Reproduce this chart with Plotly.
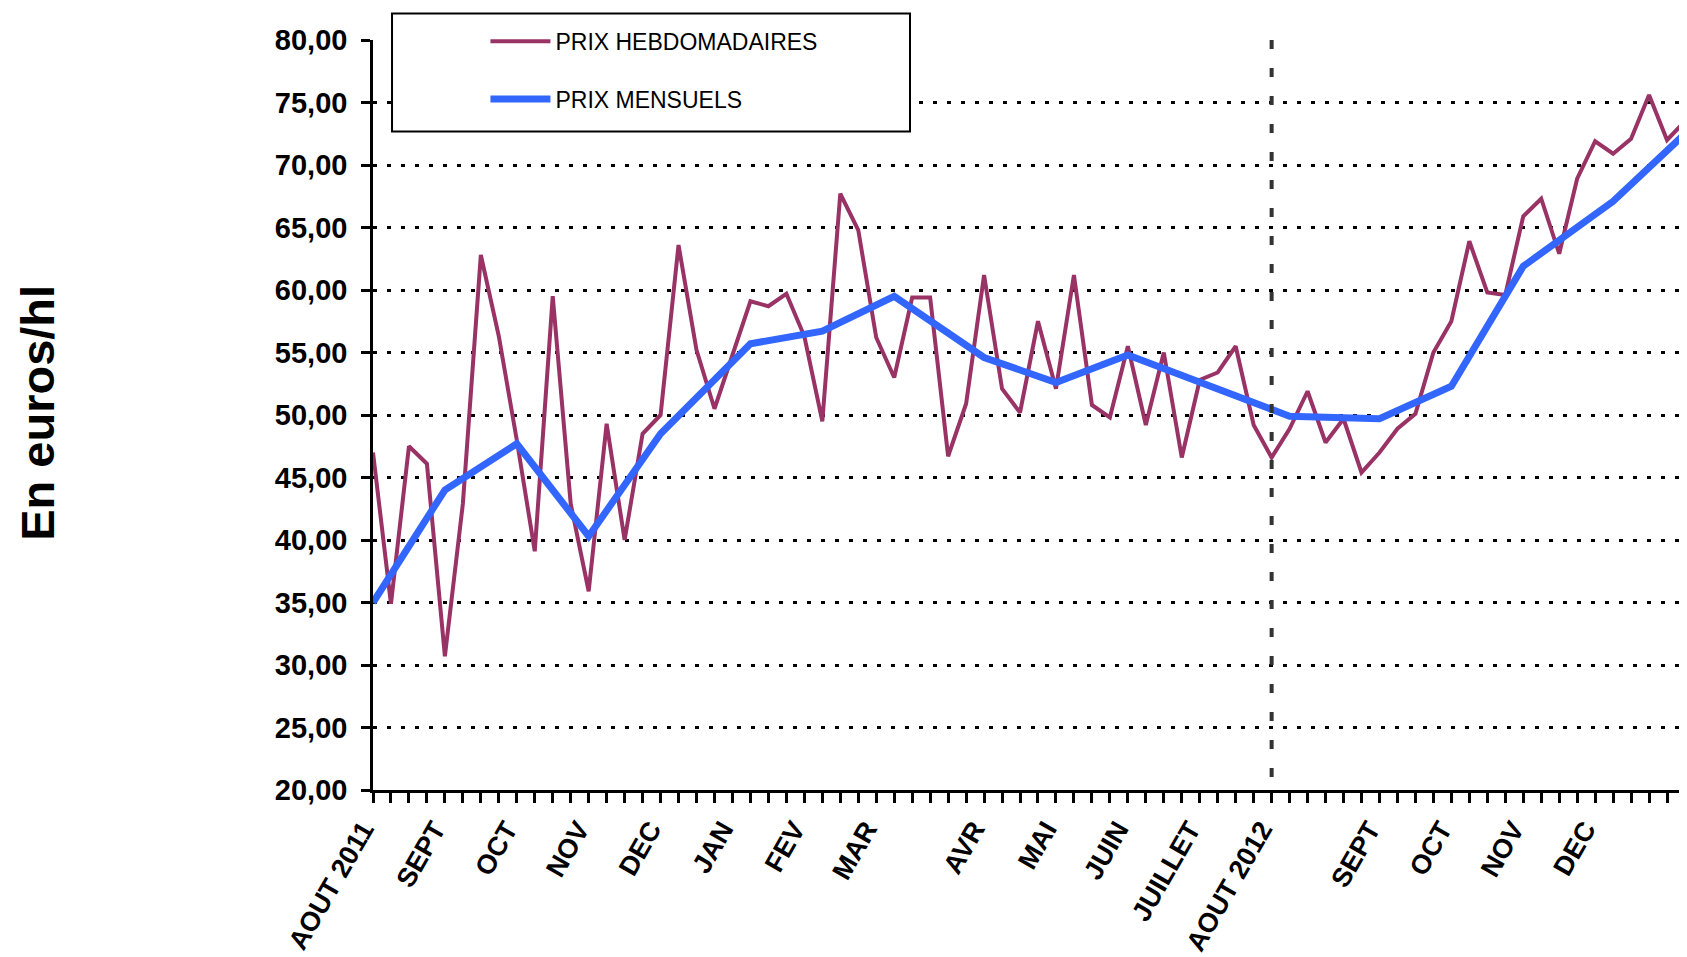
import plotly.graph_objects as go

# prix hebdomadaires (une valeur par semaine, aout 2011 -> fin 2012)
prix_hebdo = [47.0, 34.9, 47.5, 46.1, 30.7, 42.9, 62.8, 56.3, 48.0, 39.1,
              59.5, 42.9, 35.9, 49.3, 40.0, 48.5, 50.0, 63.6, 55.2, 50.5,
              54.8, 59.1, 58.7, 59.7, 56.3, 49.5, 67.7, 64.8, 56.2, 53.0,
              59.4, 59.4, 46.7, 50.9, 61.2, 52.1, 50.2, 57.5, 52.1, 61.2,
              50.8, 49.8, 55.5, 49.2, 55.0, 46.6, 52.8, 53.4, 55.5, 49.2,
              46.6, 48.9, 51.9, 47.8, 49.7, 45.4, 47.0, 48.9, 50.1, 55.0,
              57.5, 63.9, 59.8, 59.6, 65.9, 67.3, 62.9, 68.9, 71.9, 70.9,
              72.1, 75.6, 72.0, 73.5]
semaines = list(range(len(prix_hebdo)))

# prix mensuels (semaine de reference, valeur)
mois_semaine = [0, 4, 8, 12, 16, 21, 25, 29, 34, 38, 42, 51, 56, 60, 64, 69, 73]
prix_mensuels = [35.0, 44.0, 47.7, 40.3, 48.5, 55.7, 56.7, 59.5, 54.6, 52.6,
                 54.8, 49.9, 49.7, 52.3, 61.9, 67.1, 72.5]

# etiquettes de l'axe des x
etiquettes = {0: "AOUT 2011", 4: "SEPT", 8: "OCT", 12: "NOV", 16: "DEC",
              20: "JAN", 24: "FEV", 28: "MAR", 34: "AVR", 38: "MAI",
              42: "JUIN", 46: "JUILLET", 50: "AOUT 2012", 56: "SEPT",
              60: "OCT", 64: "NOV", 68: "DEC"}
coupure = "AOUT 2012"

y_ticks = [20, 25, 30, 35, 40, 45, 50, 55, 60, 65, 70, 75, 80]

FONT = "Arial, Liberation Sans, sans-serif"

fig = go.Figure()
fig.add_trace(go.Scatter(x=semaines, y=prix_hebdo, mode="lines",
                         name="PRIX HEBDOMADAIRES", legendgroup="a",
                         line=dict(color="#993366", width=4)))
fig.add_trace(go.Scatter(x=mois_semaine, y=prix_mensuels, mode="lines",
                         name="PRIX MENSUELS", legendgroup="b",
                         line=dict(color="#3366FF", width=7)))

sem_coupure = [k for k, v in etiquettes.items() if v == coupure][0]
fig.add_vline(x=sem_coupure, y0=1, y1=0,
              line=dict(color="#333333", width=4, dash="9px,19px"))

# cadre de la legende
fig.add_shape(type="rect", xref="paper", yref="paper",
              x0=0.0145, x1=0.4093, y0=0.878, y1=1.0353,
              line=dict(color="black", width=2), fillcolor="white", layer="above")

fig.add_annotation(text="En euros/hl", xref="paper", yref="paper",
                   x=-0.2553, y=0.503, xanchor="center", yanchor="middle",
                   textangle=-90, showarrow=False,
                   font=dict(family=FONT, size=47, color="black", weight="bold"))

# la page ajoute 8 px de marge : la figure est reduite d'autant
fig.update_layout(
    width=1679, height=949,
    margin=dict(l=365, r=2, t=32, b=167),
    paper_bgcolor="white", plot_bgcolor="white",
    separators=", ",
    font=dict(family=FONT, color="black"),
    legend=dict(x=0.0857, y=1.027, xanchor="left", yanchor="top",
                bgcolor="rgba(0,0,0,0)", borderwidth=0, itemwidth=60,
                font=dict(family=FONT, size=23, color="black"),
                tracegroupgap=25, traceorder="grouped"),
    xaxis=dict(range=[0, len(prix_hebdo) - 1], showgrid=False, zeroline=False,
               automargin=False,
               showline=True, linecolor="black", linewidth=2.5,
               tickmode="array", tickvals=semaines,
               ticktext=[etiquettes.get(s, "") for s in semaines],
               ticks="outside", ticklen=10, tickwidth=2.5, tickcolor="black",
               tickangle=-60, ticklabelshift=-10,
               tickfont=dict(family=FONT, size=27, color="black", weight="bold")),
    xaxis2=dict(range=[0, len(prix_hebdo) - 1], overlaying="x", anchor="y",
                side="bottom", showgrid=False, zeroline=False, showline=False,
                automargin=False,
                tickmode="array", tickvals=semaines, showticklabels=False,
                ticks="inside", ticklen=9, tickwidth=2.5, tickcolor="black"),
    yaxis=dict(range=[20, 80], tickvals=y_ticks, tickformat=".2f",
               automargin=False, ticklabelstandoff=8,
               showgrid=True, gridcolor="black", gridwidth=3, griddash="4px,10px",
               zeroline=False, showline=True, linecolor="black", linewidth=2.5,
               ticks="outside", ticklen=9, tickwidth=2.5, tickcolor="black",
               tickfont=dict(family=FONT, size=29, color="black", weight="bold")),
    yaxis2=dict(range=[20, 80], overlaying="y", anchor="x", side="left",
                showgrid=False, zeroline=False, showline=False, automargin=False,
                tickvals=y_ticks, showticklabels=False,
                ticks="inside", ticklen=9, tickwidth=2.5, tickcolor="black"),
)

fig.write_html("out.html")
